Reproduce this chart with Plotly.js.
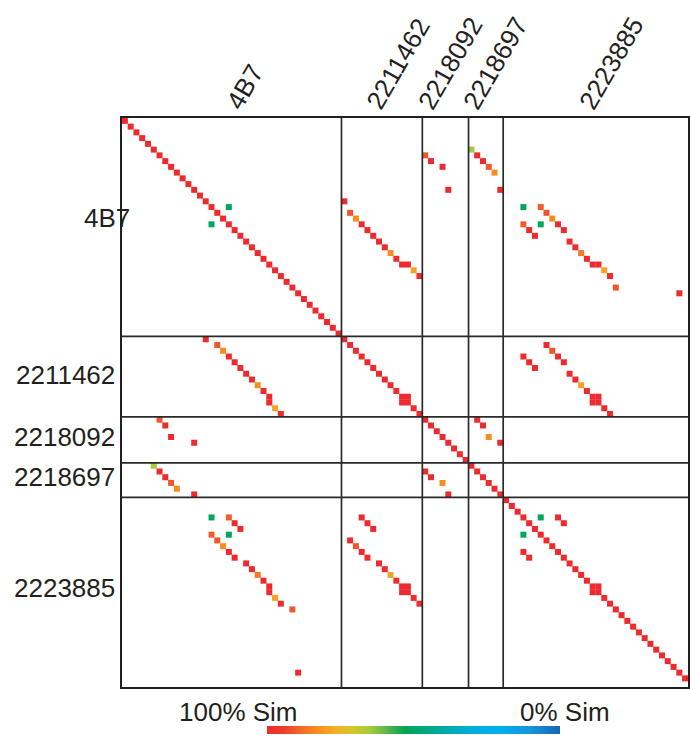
<!DOCTYPE html>
<html>
<head>
<meta charset="utf-8">
<script src="https://cdn.plot.ly/plotly-3.0.1.min.js"></script>
<style>
  html, body { margin: 0; padding: 0; background: #ffffff; }
  #chart { width: 690px; height: 736px; }
</style>
</head>
<body>
<div id="chart"></div>
<script>
// ---------- DATA ----------
// Sequence segments, in matrix cells
const segmentNames  = ['4B7', '2211462', '2218092', '2218697', '2223885'];
const segmentStarts = [0, 38, 52, 60, 66];
const matrixCols = 98;   // visible cells along x
const matrixRows = 99;   // visible cells along y

// Self-identity diagonal cells (100% similarity)
const diagonalCells = [
  0,1,2,3,4,5,6,7,8,9,10,11,12,13,14,15,16,17,18,19,
  20,21,22,23,24,25,26,27,28,29,30,31,32,33,34,35,36,37,38,39,
  40,41,42,43,44,45,46,47,48,49,50,51,52,53,54,55,56,57,58,59,
  60,61,62,63,64,65,66,67,68,69,70,71,72,73,74,75,76,77,78,79,
  80,81,82,83,84,85,86,87,88,89,90,91,92,93,94,95,96,97,98
];

// Off-diagonal matches (upper triangle; the matrix is symmetric)
const matchCol = [
  18,
  38,39,40,41,42,43,44,45,46,47,48,49,50,51,
  52,53,55,56,
  60,61,62,63,64,65,
  69,72,73,74,69,72,75,70,76,71,77,78,79,80,81,82,83,84,85,96,
  73,74,75,69,76,70,71,77,78,79,80,81,82,81,82,83,84,
  61,62,63,65,
  72,75,76,
  49,82
];
const matchRow = [
  15,
  14,16,17,18,19,20,21,22,23,24,25,25,26,27,
  6,7,8,12,
  5,6,7,8,9,12,
  15,15,16,17,18,18,18,19,19,20,21,22,23,24,25,25,26,27,29,30,
  39,40,41,41,42,42,43,44,45,46,47,48,48,49,49,50,51,
  52,53,55,56,
  69,69,70,
  48,81
];
const matchSim = [
  51,
  100,91,83,100,100,100,100,100,83,100,100,100,79,100,
  91,100,100,100,
  65,100,100,91,83,100,
  51,90,91,83,90,51,100,100,100,100,100,100,86,100,100,100,79,100,91,100,
  100,91,100,100,100,100,100,100,100,79,100,100,100,100,100,100,100,
  100,100,83,100,
  51,100,100,
  100,100
];

// Legend texts
const legendLeftText = '100% Sim';
const legendRightText = '0% Sim';

// ---------- BUILD ----------
const xs = [], ys = [], sims = [];
diagonalCells.forEach(i => { xs.push(i + 0.5); ys.push(i + 0.5); sims.push(100); });
for (let k = 0; k < matchCol.length; k++) {
  xs.push(matchCol[k] + 0.5); ys.push(matchRow[k] + 0.5); sims.push(matchSim[k]);
  xs.push(matchRow[k] + 0.5); ys.push(matchCol[k] + 0.5); sims.push(matchSim[k]);
}
const dissim = sims.map(s => 100 - s);

const colorscale = [
  [0.00, '#EE2A2E'], [0.06, '#EF3E2C'], [0.11, '#F1652A'], [0.18, '#F7941D'],
  [0.24, '#F2B229'], [0.29, '#D6C72C'], [0.35, '#A5CB3B'], [0.41, '#5DB54A'],
  [0.47, '#00A651'], [0.53, '#00A77C'], [0.60, '#00AAA6'], [0.70, '#00AEDA'],
  [0.80, '#00AEEF'], [0.90, '#1396DA'], [1.00, '#1B66B2']
];

// plot geometry (px)
const W = 690, H = 736;
const M = { l: 122, r: 2, t: 118, b: 47 };
const PW = W - M.l - M.r, PH = H - M.t - M.b;
const px2xp = px => (px - M.l) / PW;
const py2yp = py => (H - M.b - py) / PH;

const trace = {
  type: 'scatter', mode: 'markers',
  x: xs, y: ys,
  cliponaxis: false,
  hoverinfo: 'skip',
  marker: {
    symbol: 'square', size: 6, line: { width: 0 },
    color: dissim, cmin: 0, cmax: 100, colorscale: colorscale,
    showscale: true,
    colorbar: {
      orientation: 'h',
      lenmode: 'pixels', len: 293,
      thicknessmode: 'pixels', thickness: 8,
      x: px2xp(413.5), xanchor: 'center',
      y: py2yp(728), yanchor: 'top',
      xpad: 0, ypad: 0,
      outlinewidth: 0, borderwidth: 0,
      showticklabels: false, ticks: ''
    }
  }
};

const lineColor = '#2a2a2a';
const shapes = [];
segmentStarts.slice(1).forEach(b => {
  shapes.push({ type: 'line', xref: 'x', yref: 'paper', x0: b, x1: b, y0: 0, y1: 1,
                line: { color: lineColor, width: 1.7 }, layer: 'above' });
  shapes.push({ type: 'line', xref: 'paper', yref: 'y', x0: 0, x1: 1, y0: b, y1: b,
                line: { color: lineColor, width: 1.7 }, layer: 'above' });
});

const font = { family: 'Liberation Sans, Arial, Helvetica, sans-serif', size: 26, color: '#231F20' };

// label placement (px)
const topLabelLeft = [219, 359, 411, 456, 572];
const topLabelBottom = 116;
const sideLabelRight = [131, 116, 116, 116, 116];
const sideLabelMid = [218, 376, 438, 478, 590];

const annotations = [];
segmentNames.forEach((name, i) => {
  annotations.push({
    text: name, xref: 'paper', yref: 'paper',
    x: px2xp(topLabelLeft[i]), y: py2yp(topLabelBottom),
    xanchor: 'left', yanchor: 'bottom', textangle: -60,
    showarrow: false, font: font, borderpad: 0
  });
  annotations.push({
    text: name, xref: 'paper', yref: 'paper',
    x: px2xp(sideLabelRight[i]), y: py2yp(sideLabelMid[i]),
    xanchor: 'right', yanchor: 'middle',
    showarrow: false, font: font, borderpad: 0
  });
});
annotations.push({
  text: legendLeftText, xref: 'paper', yref: 'paper',
  x: px2xp(178), y: py2yp(714), xanchor: 'left', yanchor: 'middle',
  showarrow: false, font: font, borderpad: 0
});
annotations.push({
  text: legendRightText, xref: 'paper', yref: 'paper',
  x: px2xp(519), y: py2yp(714), xanchor: 'left', yanchor: 'middle',
  showarrow: false, font: font, borderpad: 0
});

const axisCommon = {
  showgrid: false, zeroline: false, showticklabels: false, ticks: '',
  showline: true, mirror: true, linecolor: '#231F20', linewidth: 2, fixedrange: true
};

const layout = {
  width: W, height: H,
  margin: { l: M.l, r: M.r, t: M.t, b: M.b, pad: 0 },
  paper_bgcolor: '#ffffff', plot_bgcolor: '#ffffff',
  showlegend: false,
  xaxis: Object.assign({ range: [0, matrixCols] }, axisCommon),
  yaxis: Object.assign({ range: [matrixRows, 0] }, axisCommon),
  shapes: shapes,
  annotations: annotations,
  font: font
};

Plotly.newPlot('chart', [trace], layout, { displayModeBar: false, staticPlot: true });
</script>
</body>
</html>
